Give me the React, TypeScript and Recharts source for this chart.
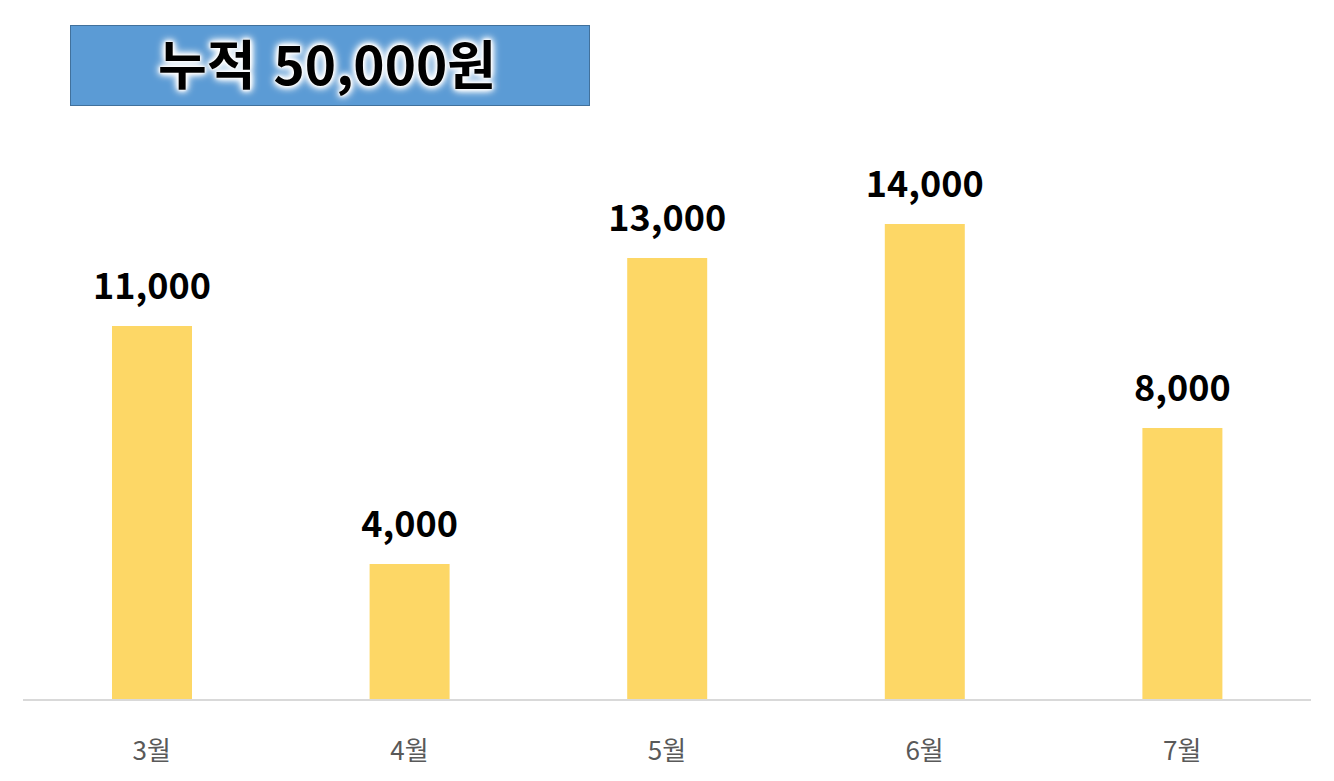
import React from 'react';
import { BarChart, Bar, XAxis, YAxis, LabelList } from 'recharts';

const months = ['3월', '4월', '5월', '6월', '7월'];
const amounts = [11000, 4000, 13000, 14000, 8000];
const titleText = '누적 50,000원';

const data = months.map((m, i) => ({ month: m, value: amounts[i] }));

const FONT = "'Noto Sans CJK KR', 'Noto Sans', sans-serif";

const renderLabel = (props: any) => {
  const { x, y, width, value } = props;
  return (
    <text
      x={x + width / 2}
      y={y - 27}
      textAnchor="middle"
      fontFamily={FONT}
      fontWeight={700}
      fontSize={36}
      fill="#000"
    >
      {Number(value).toLocaleString('en-US')}
    </text>
  );
};

const renderTick = (props: any) => {
  const { x, payload } = props;
  return (
    <text x={x} y={760} textAnchor="middle" fontFamily={FONT} fontSize={26} fill="#595959">
      {payload.value}
    </text>
  );
};

export default function App() {
  return (
    <div style={{ position: 'absolute', left: 0, top: 0, width: 1334, height: 781, background: '#fff' }}>
      <BarChart
        width={1334}
        height={781}
        data={data}
        margin={{ top: 156, right: 23, bottom: 0, left: 23 }}
      >
        <YAxis hide domain={[0, 16000]} />
        <XAxis
          dataKey="month"
          axisLine={{ stroke: '#d9d9d9', strokeWidth: 2 }}
          tickLine={false}
          tick={renderTick}
          height={81}
          interval={0}
        />
        <Bar dataKey="value" fill="#FDD766" barSize={80} isAnimationActive={false}>
          <LabelList dataKey="value" content={renderLabel} />
        </Bar>
      </BarChart>
      <div
        style={{
          position: 'absolute',
          left: 70,
          top: 25,
          width: 518,
          height: 79,
          background: '#5B9BD5',
          border: '1px solid #41719C',
          display: 'flex',
          alignItems: 'center',
          justifyContent: 'center',
          fontFamily: FONT,
          fontWeight: 700,
          fontSize: 53,
          color: '#000',
          textShadow:
            '0 0 2px #fff, 0 0 3px #fff, 0 0 5px #fff, 0 0 7px #fff, 0 0 9px #fff, 0 0 11px #fff',
          lineHeight: 1,
          boxSizing: 'content-box',
          wordSpacing: 6,
        }}
      >
        <span style={{ marginTop: -6, marginRight: 6 }}>{titleText}</span>
      </div>
    </div>
  );
}
